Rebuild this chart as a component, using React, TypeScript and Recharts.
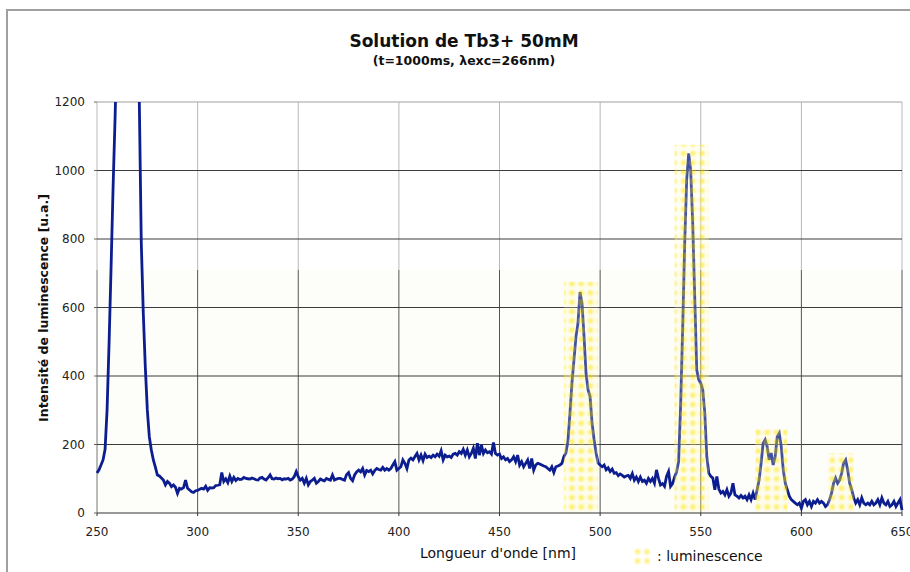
import { LineChart, Line, XAxis, YAxis, ReferenceArea, ReferenceLine } from 'recharts';

// intensity read every 1 nm, one array per 50 nm band
const band250 = [
  117, 126, 140, 155, 185, 300, 496, 719, 953, 1157,
  1400, 1650, 1850, 2000, 2080, 2100, 2080, 2000, 1900, 1780,
  1650, 1210, 790, 584, 427, 301, 222, 184, 155, 134,
  111, 108, 102, 96, 82, 92, 87, 77, 82, 75,
  57, 72, 70, 74, 96, 72, 67, 62, 60, 65,
];
const band300 = [
  66, 69, 72, 70, 78, 66, 74, 73, 74, 80,
  81, 83, 118, 92, 100, 89, 108, 92, 104, 95,
  101, 98, 99, 104, 101, 100, 99, 102, 100, 97,
  96, 102, 104, 99, 96, 103, 111, 100, 99, 102,
  100, 101, 97, 100, 99, 101, 96, 99, 106, 121,
];
const band350 = [
  106, 96, 101, 87, 101, 82, 92, 96, 101, 87,
  92, 99, 96, 94, 101, 98, 96, 111, 96, 99,
  101, 101, 98, 96, 112, 118, 101, 94, 111, 120,
  125, 120, 130, 111, 124, 121, 125, 114, 124, 130,
  127, 125, 133, 125, 130, 125, 130, 140, 150, 125,
];
const band400 = [
  130, 135, 155, 145, 130, 155, 160, 155, 165, 174,
  155, 169, 153, 172, 162, 166, 162, 169, 164, 172,
  166, 182, 155, 169, 164, 166, 162, 172, 174, 169,
  179, 174, 186, 169, 184, 164, 174, 189, 159, 204,
  169, 199, 174, 184, 176, 179, 172, 206, 174, 169,
];
const band450 = [
  172, 159, 164, 155, 159, 150, 155, 164, 150, 169,
  140, 150, 135, 145, 155, 130, 159, 125, 140, 145,
  143, 140, 137, 135, 130, 125, 135, 118, 135, 137,
  140, 145, 165, 175, 210, 290, 379, 448, 515, 554,
  645, 612, 515, 408, 360, 340, 262, 214, 175, 146,
];
const band500 = [
  140, 135, 140, 126, 132, 121, 128, 116, 118, 109,
  114, 110, 105, 108, 110, 101, 115, 96, 105, 92,
  105, 92, 96, 87, 101, 92, 101, 87, 126, 101,
  82, 86, 78, 107, 121, 78, 86, 105, 120, 150,
  312, 535, 783, 973, 1050, 1001, 846, 632, 418, 389,
];
const band550 = [
  379, 360, 292, 165, 116, 107, 102, 68, 107, 70,
  58, 63, 53, 68, 49, 58, 87, 53, 49, 44,
  51, 44, 49, 39, 53, 39, 58, 39, 68, 96,
  146, 204, 214, 194, 155, 175, 140, 165, 223, 233,
  194, 126, 87, 68, 49, 39, 34, 29, 24, 29,
];
const band600 = [
  14, 34, 39, 24, 34, 19, 34, 29, 39, 29,
  34, 29, 19, 24, 39, 58, 87, 102, 87, 96,
  116, 146, 155, 126, 87, 68, 44, 29, 39, 24,
  44, 29, 24, 29, 24, 34, 24, 29, 39, 24,
  44, 29, 24, 34, 19, 24, 34, 19, 29, 39,
  9,
];

const bandStart = [250, 300, 350, 400, 450, 500, 550, 600];
const bands = [band250, band300, band350, band400, band450, band500, band550, band600];

const xTicks = [250, 300, 350, 400, 450, 500, 550, 600, 650];
const yTicks = [0, 200, 400, 600, 800, 1000, 1200];

// yellow "luminescence" boxes
const lumFrom = [482, 537, 577, 613];
const lumTo = [499, 554, 593, 626];
const lumTop = [675, 1075, 245, 175];

const shadeTop = 710;

const data = bands.flatMap((band, i) =>
  band.map((v, j) => ({ nm: bandStart[i] + j, intensity: v }))
);

const font = '"DejaVu Sans", Verdana, sans-serif';

export default function App() {
  return (
    <div style={{ position: 'relative', width: 910, height: 572, overflow: 'hidden', background: '#fff', fontFamily: font }}>
      <style>{'body{margin:0}'}</style>
      <div style={{ position: 'absolute', left: 6, top: 9, width: 1200, height: 1200, border: '2px solid #a0a0a0' }} />

      <div style={{ position: 'absolute', left: 0, width: 928, top: 31, textAlign: 'center', fontSize: 17, fontWeight: 'bold', color: '#111', lineHeight: '20px' }}>
        Solution de Tb3+ 50mM
      </div>
      <div style={{ position: 'absolute', left: 0, width: 928, top: 53, textAlign: 'center', fontSize: 12.5, fontWeight: 'bold', color: '#111', lineHeight: '16px' }}>
        (t=1000ms, λexc=266nm)
      </div>

      <LineChart width={910} height={572} data={data} margin={{ top: 102, right: 8, bottom: 29, left: 0 }}>
        <defs>
          <pattern id="lum" patternUnits="userSpaceOnUse" width={9.3} height={9.3}>
            <rect width={9.3} height={9.3} fill="#fffbd0" fillOpacity={0.45} />
            <circle cx={4.65} cy={4.65} r={4} fill="#fff266" fillOpacity={0.6} />
            <circle cx={4.65} cy={4.65} r={2.3} fill="#ffe600" />
          </pattern>
        </defs>
        <XAxis
          dataKey="nm"
          type="number"
          domain={[250, 650]}
          ticks={xTicks}
          interval={0}
          height={30}
          tickSize={3}
          tickMargin={11}
          stroke="#333"
          tick={{ fill: '#222', fontSize: 12, fontFamily: font }}
        />
        <YAxis
          type="number"
          domain={[0, 1200]}
          ticks={yTicks}
          interval={0}
          allowDataOverflow
          width={97}
          axisLine={false}
          tickSize={3}
          tickMargin={9}
          stroke="#666"
          tick={{ fill: '#222', fontSize: 12, fontFamily: font }}
        />
        <ReferenceArea y1={0} y2={shadeTop} fill="#f6f6e0" fillOpacity={0.2} stroke="none" zIndex={-90} />
        {xTicks.map((v) => (
          <ReferenceLine
            key={'lo' + v}
            segment={[{ x: v, y: 0 }, { x: v, y: shadeTop }]}
            stroke={v === 250 ? '#777' : '#555'}
            zIndex={-80}
          />
        ))}
        {xTicks.map((v) => (
          <ReferenceLine
            key={'hi' + v}
            segment={[{ x: v, y: shadeTop }, { x: v, y: 1200 }]}
            stroke="#b8b8b8"
            zIndex={-80}
          />
        ))}
        {yTicks.filter((v) => v > 0).map((v) => (
          <ReferenceLine key={'y' + v} y={v} stroke={v === 1200 ? '#a0a0a0' : '#3c3c3c'} zIndex={-70} />
        ))}
        <Line
          dataKey="intensity"
          type="linear"
          stroke="#0b1d8f"
          strokeWidth={2.8}
          dot={false}
          activeDot={false}
          isAnimationActive={false}
        />
        {lumFrom.map((x1, i) => (
          <ReferenceArea
            key={'lum' + i}
            x1={x1}
            x2={lumTo[i]}
            y1={0}
            y2={lumTop[i]}
            fill="url(#lum)"
            stroke="none"
            zIndex={450}
          />
        ))}
      </LineChart>

      <div
        style={{
          position: 'absolute',
          left: 43,
          top: 308,
          transform: 'translate(-50%, -50%) rotate(-90deg)',
          whiteSpace: 'nowrap',
          fontSize: 12.5,
          fontWeight: 'bold',
          color: '#111',
        }}
      >
        Intensité de luminescence [u.a.]
      </div>
      <div style={{ position: 'absolute', left: 420, top: 544, fontSize: 14, color: '#111', whiteSpace: 'nowrap', lineHeight: '18px' }}>
        Longueur d'onde [nm]
      </div>
      <svg style={{ position: 'absolute', left: 633, top: 547 }} width={19} height={19}>
        <defs>
          <pattern id="lumLegend" patternUnits="userSpaceOnUse" width={9.3} height={9.3}>
            <circle cx={4.65} cy={4.65} r={3.6} fill="#fff7b8" fillOpacity={0.8} />
            <circle cx={4.65} cy={4.65} r={1.8} fill="#fff08a" />
          </pattern>
        </defs>
        <rect width={19} height={19} fill="url(#lumLegend)" />
      </svg>
      <div style={{ position: 'absolute', left: 657, top: 547, fontSize: 14, color: '#111', whiteSpace: 'nowrap', lineHeight: '18px' }}>
        : luminescence
      </div>
    </div>
  );
}
